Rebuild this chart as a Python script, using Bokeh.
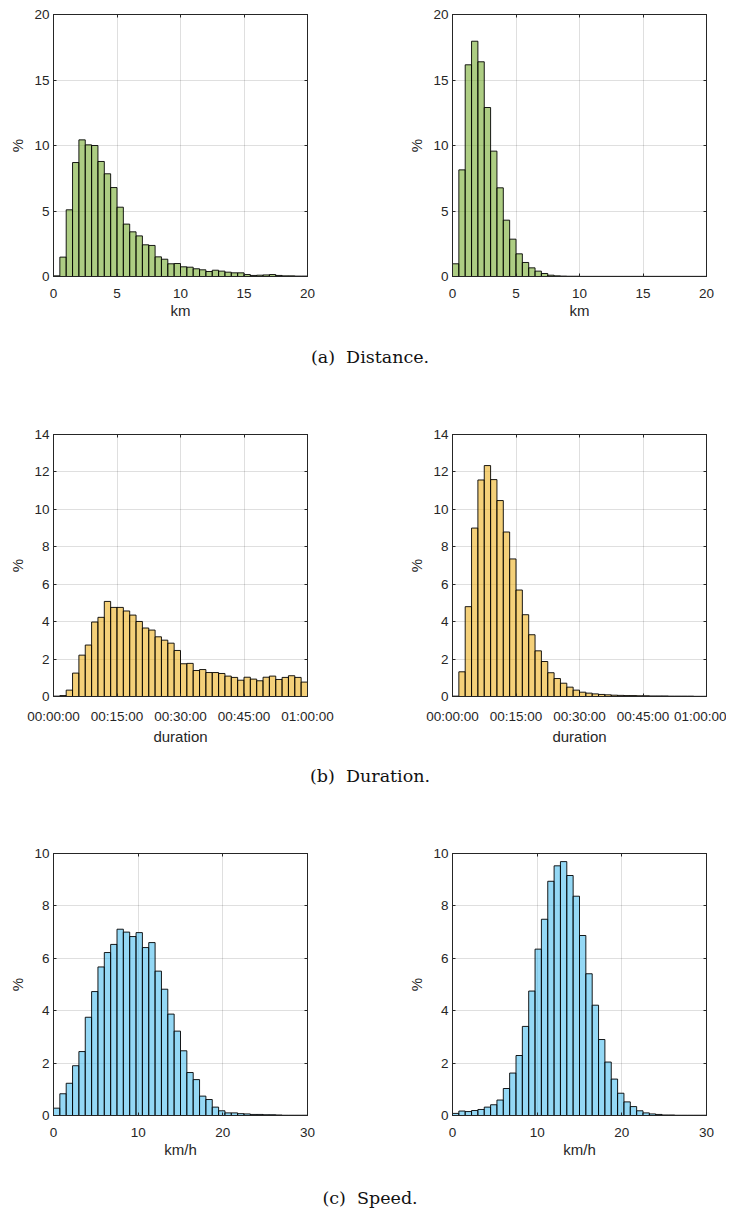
from bokeh.plotting import figure
from bokeh.layouts import column, row
from bokeh.models import Range1d, LinearAxis, FixedTicker, Label, CustomLabelingPolicy
from bokeh.embed import file_html
from bokeh.resources import INLINE

# ---------------- data (percent per bin) ----------------
dist_bin = 0.5   # km
dist_left = [0.05, 1.48, 5.09, 8.70, 10.43, 10.05, 10.00, 8.78, 7.84, 6.79,
             5.29, 4.00, 3.41, 3.10, 2.42, 2.37, 1.50, 1.32, 0.97, 0.99,
             0.74, 0.71, 0.59, 0.51, 0.38, 0.48, 0.41, 0.33, 0.28, 0.28,
             0.15, 0.08, 0.10, 0.12, 0.15, 0.08, 0.05, 0.05, 0.03, 0.03]
dist_right = [0.97, 8.14, 16.16, 17.96, 16.39, 12.90, 9.57, 6.77, 4.30, 2.85,
              1.73, 1.07, 0.66, 0.41, 0.23, 0.10, 0.05, 0.03, 0.02, 0.02,
              0.01, 0.01, 0.01, 0.01, 0.01, 0.01, 0.01, 0.01, 0.01, 0.01,
              0.01, 0.01, 0.01, 0.01, 0.01, 0.01, 0.01, 0.01, 0.01, 0.01]

dur_bin = 1.5    # minutes
dur_left = [0.02, 0.05, 0.34, 1.25, 2.21, 2.75, 3.98, 4.23, 5.08, 4.76,
            4.76, 4.57, 4.35, 4.01, 3.66, 3.55, 3.19, 3.01, 2.85, 2.46,
            1.75, 1.77, 1.39, 1.44, 1.28, 1.28, 1.23, 1.09, 1.02, 0.87,
            1.03, 0.93, 0.84, 1.03, 1.09, 0.91, 1.02, 1.11, 1.02, 0.77]
dur_right = [0.02, 1.32, 4.80, 9.00, 11.57, 12.34, 11.59, 10.47, 8.79, 7.35,
             5.69, 4.37, 3.30, 2.44, 1.87, 1.27, 0.96, 0.71, 0.50, 0.34,
             0.23, 0.18, 0.14, 0.11, 0.09, 0.07, 0.06, 0.05, 0.05, 0.04,
             0.04, 0.03, 0.03, 0.03, 0.02, 0.02, 0.02, 0.02, 0.01, 0.01]

speed_bin = 0.75  # km/h
speed_left = [0.28, 0.83, 1.23, 1.90, 2.44, 3.75, 4.73, 5.67, 6.22, 6.53,
              7.11, 7.00, 6.83, 6.98, 6.41, 6.60, 5.51, 4.82, 3.87, 3.22,
              2.47, 1.64, 1.37, 0.74, 0.61, 0.32, 0.18, 0.10, 0.10, 0.07,
              0.06, 0.04, 0.04, 0.03, 0.03, 0.02, 0.01, 0.01, 0.01, 0.01]
speed_right = [0.08, 0.17, 0.15, 0.19, 0.23, 0.32, 0.41, 0.59, 1.03, 1.62,
               2.29, 3.40, 4.75, 6.35, 7.49, 8.94, 9.53, 9.69, 9.16, 8.37,
               6.87, 5.41, 4.21, 2.90, 2.04, 1.39, 0.85, 0.52, 0.34, 0.18,
               0.10, 0.06, 0.04, 0.02, 0.02, 0.01, 0.01, 0.01, 0.01, 0.01]

dist_xticks = [0, 5, 10, 15, 20]
dist_yticks = [0, 5, 10, 15, 20]
dur_xticks = [0, 15, 30, 45, 60]
dur_xlabels = ["00:00:00", "00:15:00", "00:30:00", "00:45:00", "01:00:00"]
dur_yticks = [0, 2, 4, 6, 8, 10, 12, 14]
speed_xticks = [0, 10, 20, 30]
speed_yticks = [0, 2, 4, 6, 8, 10]

captions = ["(a)\u00a0\u00a0Distance.", "(b)\u00a0\u00a0Duration.", "(c)\u00a0\u00a0Speed."]

# ---------------- styling ----------------
GREEN = "#77AC30"
YELLOW = "#EDB120"
BLUE = "#4DBEEE"
AX = "#262626"
FONT = "Liberation Sans"
TICK_FS = "13.5px"
LABEL_FS = "15px"


def hist(values, binw, xmax, ymax, xticks, yticks, color, xlabel,
         left_side, height, top, xlabels=None):
    width = 399 if left_side else 327
    p = figure(width=width, height=height, output_backend="svg",
               toolbar_location=None, x_range=Range1d(0, xmax),
               y_range=Range1d(0, ymax), x_axis_location=None,
               y_axis_location=None,
               min_border_left=53, min_border_right=(92 if left_side else 20),
               min_border_top=top, min_border_bottom=55)
    lefts = [i * binw for i in range(len(values))]
    rights = [(i + 1) * binw for i in range(len(values))]
    p.quad(left=lefts, right=rights, bottom=0, top=values,
           fill_color=color, fill_alpha=0.6, line_color="black",
           line_width=0.9)

    xb = LinearAxis(ticker=FixedTicker(ticks=xticks), axis_label=xlabel)
    yl = LinearAxis(ticker=FixedTicker(ticks=yticks), axis_label="%")
    xa = LinearAxis(ticker=FixedTicker(ticks=xticks))
    yr = LinearAxis(ticker=FixedTicker(ticks=yticks))
    if xlabels is not None:
        xb.major_label_overrides = {t: s for t, s in zip(xticks, xlabels)}
    for ax in (xb, yl, xa, yr):
        ax.axis_line_color = AX
        ax.major_tick_line_color = AX
        ax.major_tick_in = 3
        ax.major_tick_out = 0
        ax.minor_tick_line_color = None
        ax.major_label_text_font = FONT
        ax.major_label_text_font_size = TICK_FS
        ax.major_label_text_color = AX
        ax.axis_label_text_font = FONT
        ax.axis_label_text_font_size = LABEL_FS
        ax.axis_label_text_font_style = "normal"
        ax.axis_label_text_color = AX
    for ax in (xa, yr):
        ax.major_label_policy = CustomLabelingPolicy(code="return new Set()")
        ax.major_label_standoff = 0
    xb.major_label_standoff = 12
    xb.axis_label_standoff = 1
    yl.major_label_standoff = 4
    yl.axis_label_standoff = 5
    p.add_layout(xb, "below")
    p.add_layout(yl, "left")
    p.add_layout(xa, "above")
    p.add_layout(yr, "right")

    p.xgrid.ticker = FixedTicker(ticks=xticks)
    p.ygrid.ticker = FixedTicker(ticks=yticks)
    p.grid.grid_line_color = AX
    p.grid.grid_line_alpha = 0.15
    p.outline_line_color = AX
    p.outline_line_alpha = 1.0
    p.background_fill_color = "white"
    p.border_fill_color = "white"
    return p


def caption(text, h, baseline):
    c = figure(width=726, height=h, output_backend="svg", toolbar_location=None,
               x_range=Range1d(0, 1), y_range=Range1d(0, h),
               x_axis_location=None, y_axis_location=None,
               min_border=0, outline_line_color=None)
    c.grid.visible = False
    c.add_layout(Label(x=0.509, y=baseline, text=text, text_align="center",
                       text_baseline="alphabetic", text_font="DejaVu Serif",
                       text_font_size="17.5px", text_color="#111111"))
    return c


r1 = row(hist(dist_left, dist_bin, 20, 20, dist_xticks, dist_yticks, GREEN, "km", True, 331, 14),
         hist(dist_right, dist_bin, 20, 20, dist_xticks, dist_yticks, GREEN, "km", False, 331, 14))
r2 = row(hist(dur_left, dur_bin, 60, 14, dur_xticks, dur_yticks, YELLOW, "duration", True, 378, 61, dur_xlabels),
         hist(dur_right, dur_bin, 60, 14, dur_xticks, dur_yticks, YELLOW, "duration", False, 378, 61, dur_xlabels))
r3 = row(hist(speed_left, speed_bin, 30, 10, speed_xticks, speed_yticks, BLUE, "km/h", True, 377, 60),
         hist(speed_right, speed_bin, 30, 10, speed_xticks, speed_yticks, BLUE, "km/h", False, 377, 60))

layout = column(r1, caption(captions[0], 42, 17),
                r2, caption(captions[1], 42, 18),
                r3, caption(captions[2], 38, 11))

open("out.html", "w").write(file_html(layout, INLINE))
